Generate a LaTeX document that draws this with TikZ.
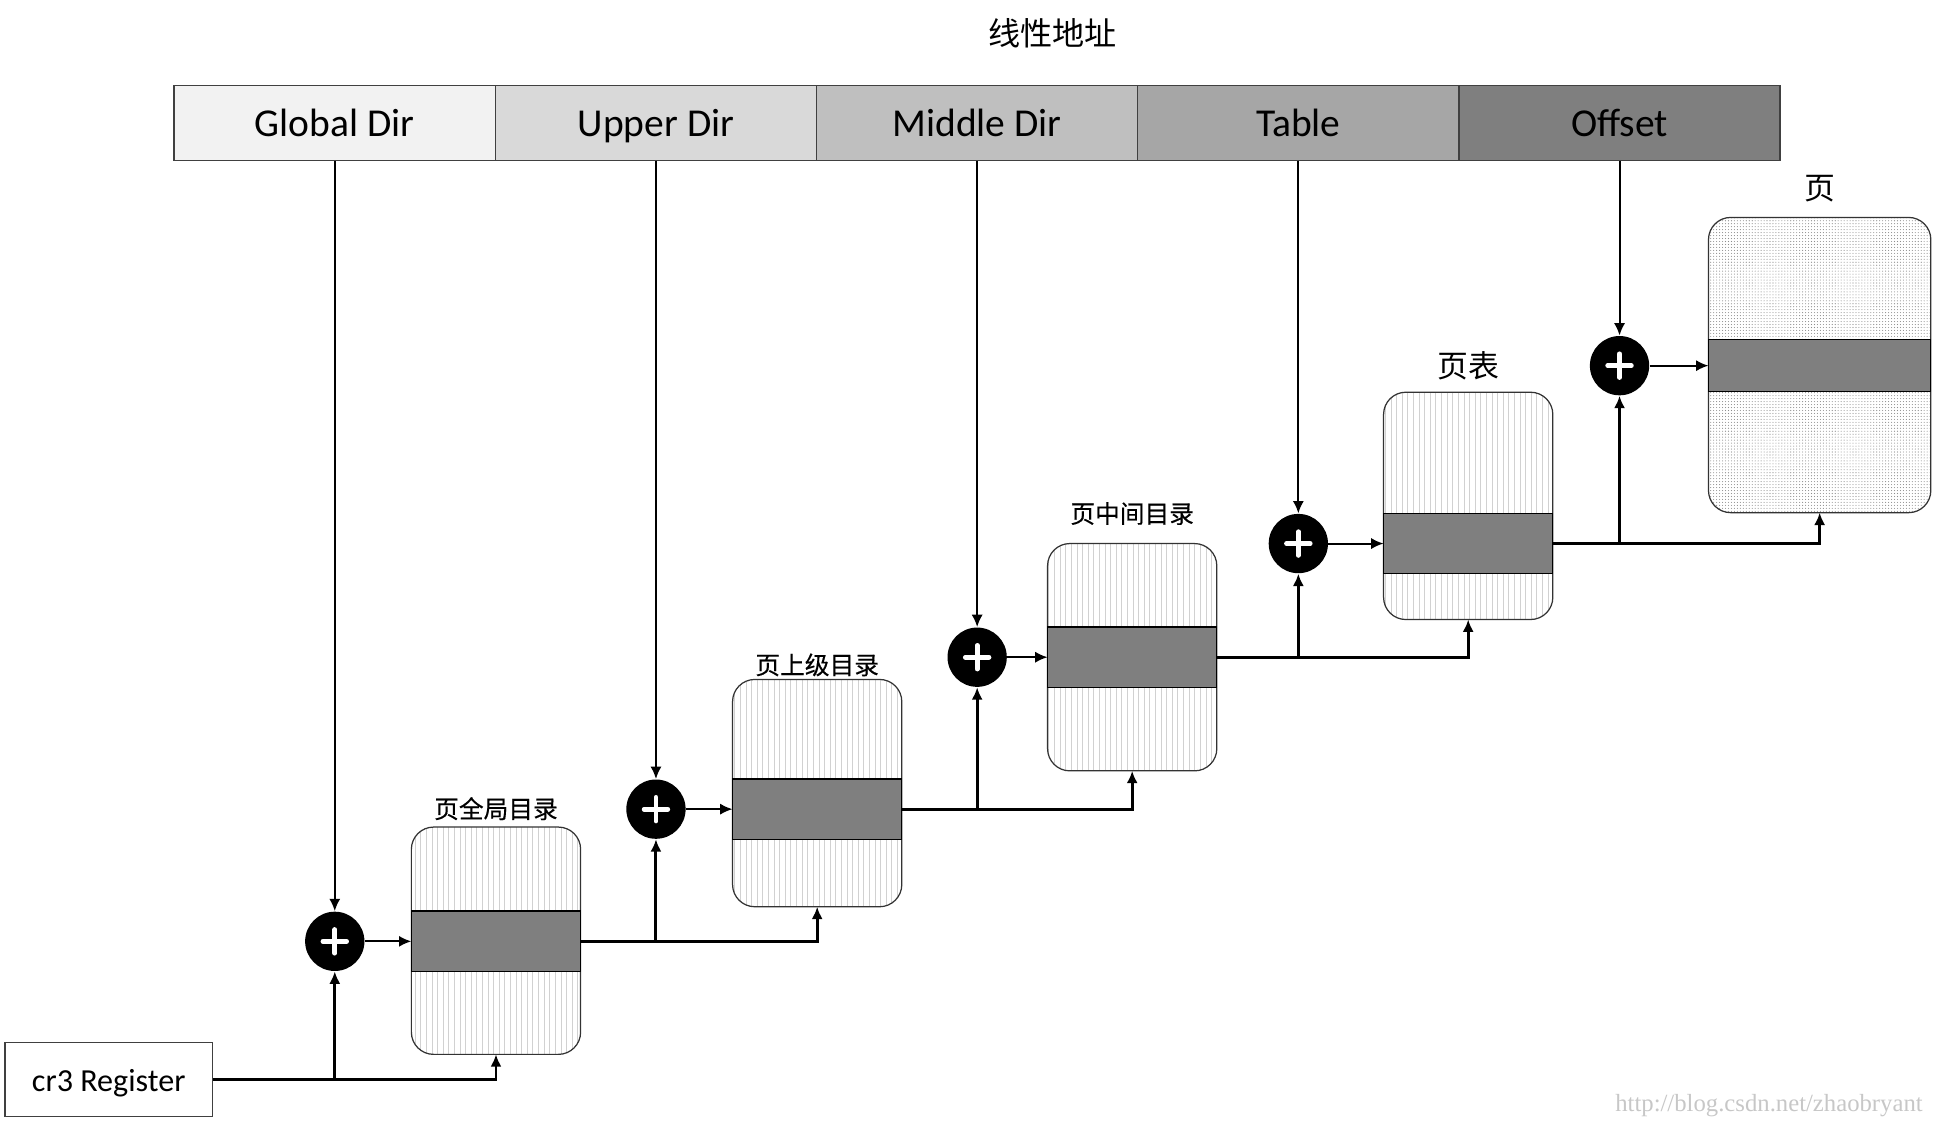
\documentclass[tikz,border=0pt]{standalone}
\usepackage{fontspec}
\setmainfont{Carlito}
\newfontfamily\cjk{Noto Sans CJK SC}
\newfontfamily\cjkb[FakeBold=0.3]{Noto Sans CJK SC}
\newfontfamily\wmfont{Liberation Serif}
\usetikzlibrary{positioning,arrows.meta,patterns.meta}

\definecolor{gdfill}{HTML}{F2F2F2}
\definecolor{udfill}{HTML}{D9D9D9}
\definecolor{mdfill}{HTML}{BFBFBF}
\definecolor{tbfill}{HTML}{A6A6A6}
\definecolor{offill}{HTML}{7F7F7F}

\begin{document}
\begin{tikzpicture}[x=0.5pt,y=-0.5pt,
    cell/.style={draw=black!75,line width=0.6pt,minimum width=130pt,minimum height=30.5pt,
      inner sep=0pt,outer sep=0pt,text height=14pt,text depth=3pt,font=\fontsize{16}{16}\selectfont},
    adder/.style={circle,fill=black,minimum size=24pt,inner sep=0pt,
      path picture={\draw[white,line width=1.9pt,line cap=round]
        ([xshift=-4.8pt]path picture bounding box.center) -- ([xshift=4.8pt]path picture bounding box.center)
        ([yshift=-4.8pt]path picture bounding box.center) -- ([yshift=4.8pt]path picture bounding box.center);}},
    tbl/.style={draw=black!80,line width=0.5pt,rounded corners=9pt,minimum width=68.5pt,
      minimum height=92pt,inner sep=0pt,outer sep=0pt,
      pattern={Lines[angle=90,distance=2.27pt,line width=0.25pt]},pattern color=black!18},
    band/.style={draw=black,line width=0.5pt,fill=offill,minimum width=68.5pt,
      minimum height=24.5pt,inner sep=0pt,outer sep=0pt},
    lbl/.style={font=\cjkb\fontsize{10}{10}\selectfont},
    arr/.style={-{Latex[length=5pt,width=4.5pt]},line width=0.8pt},
    bus/.style={arr,line width=1.2pt}]
  \useasboundingbox (0,0) rectangle (1568,910.7);

  % linear address
  \node[font=\cjk\fontsize{13}{13}\selectfont] (title) at (852,27) {线性地址};
  \node[cell,fill=gdfill] (gd) at (271,99.5) {Global Dir};
  \node[cell,fill=udfill,right=0pt of gd] (ud) {Upper Dir};
  \node[cell,fill=mdfill,right=0pt of ud] (md) {Middle Dir};
  \node[cell,fill=tbfill,right=0pt of md] (tb) {Table};
  \node[cell,fill=offill,right=0pt of tb] (of) {Offset};

  \node[draw=black!75,line width=0.6pt,minimum width=84pt,minimum height=30pt,
    text height=12.3pt,text depth=2.5pt,font=\fontsize{13}{13}\selectfont] (cr3) at (88,874) {cr3 Register};

  % adders
  \node[adder] (p1) at (271,762) {};
  \node[adder] (p2) at (531,655) {};
  \node[adder] (p3) at (791,532) {};
  \node[adder] (p4) at (1051,440) {};
  \node[adder] (p5) at (1311,296) {};

  % tables
  \node[tbl] (t1) at (401.5,761.5) {};
  \node[band] (b1) at (401.5,762) {};
  \node[lbl,above=-0.75pt of t1] {页全局目录};
  \node[tbl] (t2) at (661.5,642) {};
  \node[band] (b2) at (661.5,655) {};
  \node[lbl,above=-2.25pt of t2] {页上级目录};
  \node[tbl] (t3) at (916.5,532) {};
  \node[band] (b3) at (916.5,532) {};
  \node[lbl,above=4pt of t3] {页中间目录};
  \node[tbl] (t4) at (1188.5,409.5) {};
  \node[band] (b4) at (1188.5,440) {};
  \node[lbl,font=\cjk\fontsize{12.5}{12.5}\selectfont,above=1.5pt of t4] {页表};
  \node[tbl,minimum width=90pt,minimum height=119.5pt,
    pattern={Dots[distance=1.2pt,radius=0.22pt]},pattern color=black!45] (pg) at (1473,295.5) {};
  \node[band,minimum width=90pt,minimum height=21pt] (b5) at (1473,296) {};
  \node[lbl,font=\cjk\fontsize{12.5}{12.5}\selectfont,above=2.5pt of pg] {页};

  % connectors
  \foreach \c/\p in {gd/p1,ud/p2,md/p3,tb/p4,of/p5}
    \draw[arr] (\c) -- (\p);
  \foreach \p/\b in {p1/b1,p2/b2,p3/b3,p4/b4,p5/b5}
    \draw[arr] (\p) -- (\b);

  \coordinate (j1) at (cr3.east -| p1);
  \draw[bus] (cr3.east) -| (t1.south);
  \draw[bus] (j1) -- (p1.south);
  \foreach \b/\t/\p in {b1/t2/p2,b2/t3/p3,b3/t4/p4,b4/pg/p5} {
    \coordinate (j\p) at (\b.east -| \p);
    \draw[bus] (\b.east) -| (\t.south);
    \draw[bus] (j\p) -- (\p.south);
  }

  \node[font=\wmfont\fontsize{10}{10}\selectfont,text=black!22] (wm) at (1432,895) {http://blog.csdn.net/zhaobryant};
\end{tikzpicture}
\end{document}
